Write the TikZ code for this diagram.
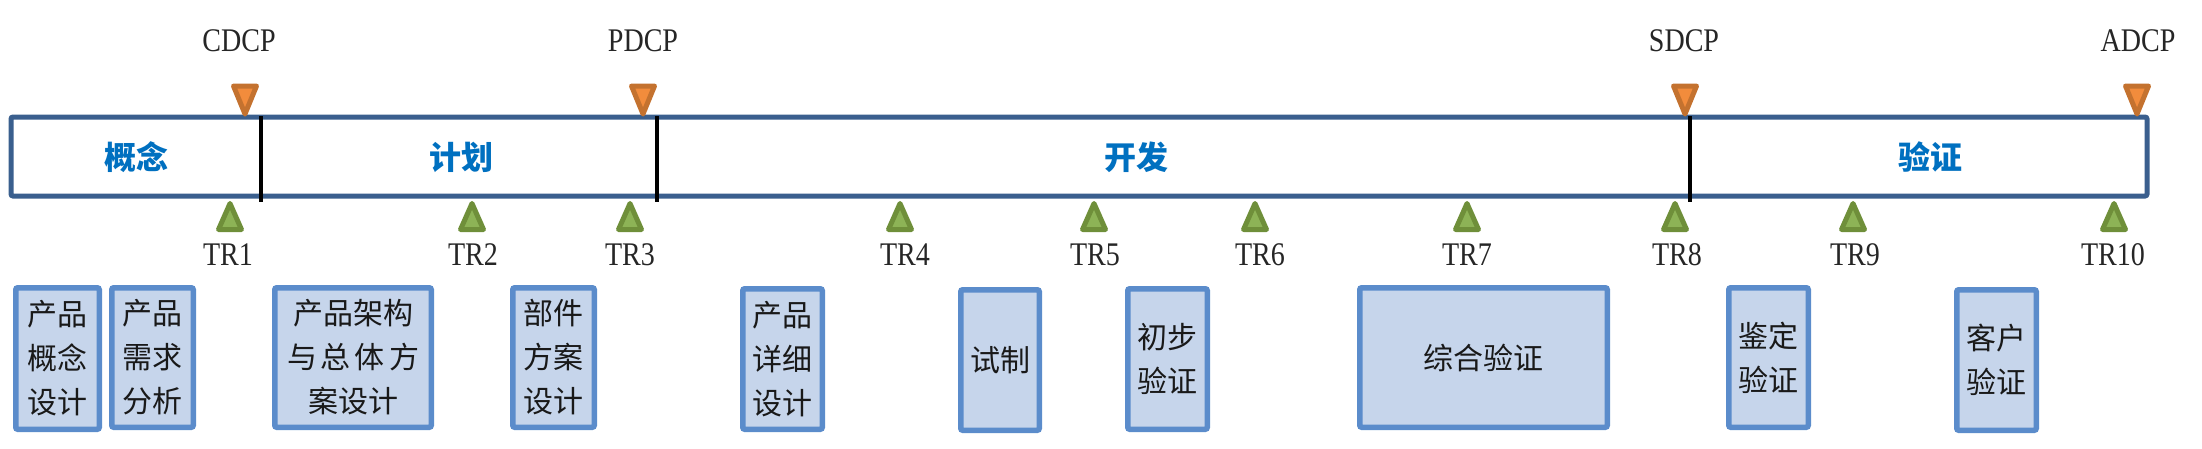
\documentclass[tikz,border=0pt]{standalone}
\usepackage{fontspec}
\setmainfont{Liberation Serif}[FakeStretch=0.85]
\newfontfamily\cjk{Noto Sans CJK SC}
\definecolor{barblue}{HTML}{3A5F8E}
\definecolor{boxfill}{HTML}{C6D5EB}
\definecolor{boxline}{HTML}{5B8CCB}
\definecolor{phaseblue}{HTML}{0070C0}
\definecolor{ofill}{HTML}{F28C3C}
\definecolor{oline}{HTML}{C4722F}
\definecolor{gfill}{HTML}{8DB356}
\definecolor{gline}{HTML}{6F8F3A}
\tikzset{
  barbox/.style={draw=barblue, line width=5pt, fill=white, rounded corners=2pt, inner sep=0pt},
  phase/.style={text=phaseblue, font=\cjk\bfseries\fontsize{32}{36}\selectfont, inner sep=0pt},
  divider/.style={line width=3.5pt, black},
  gatelabel/.style={font=\fontsize{33}{36}\selectfont, inner sep=0pt, text=black!85},
  taskbox/.style={draw=boxline, line width=5.5pt, fill=boxfill, rounded corners=2pt, inner sep=0pt,
    align=center, font=\cjk\fontsize{30}{44}\selectfont, text=black!90},
  otri/.pic={\draw[oline, fill=ofill, line width=5pt, line join=round] (-11.5,-31) -- (11.5,-31) -- (0,-3) -- cycle;},
  gtri/.pic={\draw[gline, fill=gfill, line width=5pt, line join=round] (0,3.5) -- (11.5,29.5) -- (-11.5,29.5) -- cycle;}
}
\begin{document}
\begin{tikzpicture}[x=1pt, y=-1pt]
\useasboundingbox (0,0) rectangle (2202,448);
% main bar
\node[barbox, minimum width=2136pt, minimum height=79pt] (bar) at (1079,156.5) {};
% dividers
\coordinate (d1t) at (261,116); \coordinate (d1b) at (261,202);
\coordinate (d2t) at (657,116); \coordinate (d2b) at (657,202);
\coordinate (d3t) at (1690,116); \coordinate (d3b) at (1690,202);
\draw[divider] (d1t) -- (d1b);
\draw[divider] (d2t) -- (d2b);
\draw[divider] (d3t) -- (d3b);
% phase labels
\node[phase] (p1) at (136,157) {概念};
\node[phase] (p2) at (461,157) {计划};
\node[phase] (p3) at (1136,157) {开发};
\node[phase] (p4) at (1930,157) {验证};
% decision checkpoints
\pic (o1) at (245,117) {otri};
\pic (o2) at (643,117) {otri};
\pic (o3) at (1685,117) {otri};
\pic (o4) at (2137,117) {otri};
\node[gatelabel] (cdcp) at (239,41) {CDCP};
\node[gatelabel] (pdcp) at (643,41) {PDCP};
\node[gatelabel] (sdcp) at (1684,41) {SDCP};
\node[gatelabel] (adcp) at (2138,41) {ADCP};
% technical reviews
\pic (g1) at (230,200) {gtri};
\pic (g2) at (472,200) {gtri};
\pic (g3) at (630,200) {gtri};
\pic (g4) at (900,200) {gtri};
\pic (g5) at (1094,200) {gtri};
\pic (g6) at (1255,200) {gtri};
\pic (g7) at (1467,200) {gtri};
\pic (g8) at (1675,200) {gtri};
\pic (g9) at (1853,200) {gtri};
\pic (g10) at (2114,200) {gtri};
\node[gatelabel] (tr1) at (228,255) {TR1};
\node[gatelabel] (tr2) at (473,255) {TR2};
\node[gatelabel] (tr3) at (630,255) {TR3};
\node[gatelabel] (tr4) at (905,255) {TR4};
\node[gatelabel] (tr5) at (1095,255) {TR5};
\node[gatelabel] (tr6) at (1260,255) {TR6};
\node[gatelabel] (tr7) at (1467,255) {TR7};
\node[gatelabel] (tr8) at (1677,255) {TR8};
\node[gatelabel] (tr9) at (1855,255) {TR9};
\node[gatelabel] (tr10) at (2113,255) {TR10};
% task boxes
\node[taskbox, minimum width=83.5pt, minimum height=141.5pt] (b1) at (57.5,358.5) {产品\\概念\\设计};
\node[taskbox, minimum width=81.5pt, minimum height=139.5pt] (b2) at (152.5,357.5) {产品\\需求\\分析};
\node[taskbox, minimum width=156.5pt, minimum height=139.5pt] (b3) at (353,357.5) {产品架构\\与\hspace{4pt}总\hspace{4pt}体\hspace{4pt}方\\案设计};
\node[taskbox, minimum width=81.5pt, minimum height=139.5pt] (b4) at (553.5,357.5) {部件\\方案\\设计};
\node[taskbox, minimum width=79.5pt, minimum height=140.5pt] (b5) at (782.5,359) {产品\\详细\\设计};
\node[taskbox, minimum width=78.5pt, minimum height=140.5pt] (b6) at (1000,360) {试制};
\node[taskbox, minimum width=79.5pt, minimum height=140.5pt] (b7) at (1167.5,359) {初步\\验证};
\node[taskbox, minimum width=247.5pt, minimum height=139.5pt] (b8) at (1483.5,357.5) {综合验证};
\node[taskbox, minimum width=79.5pt, minimum height=139.5pt] (b9) at (1768.5,357.5) {鉴定\\验证};
\node[taskbox, minimum width=79.5pt, minimum height=140.5pt] (b10) at (1996.5,360) {客户\\验证};
\end{tikzpicture}
\end{document}
